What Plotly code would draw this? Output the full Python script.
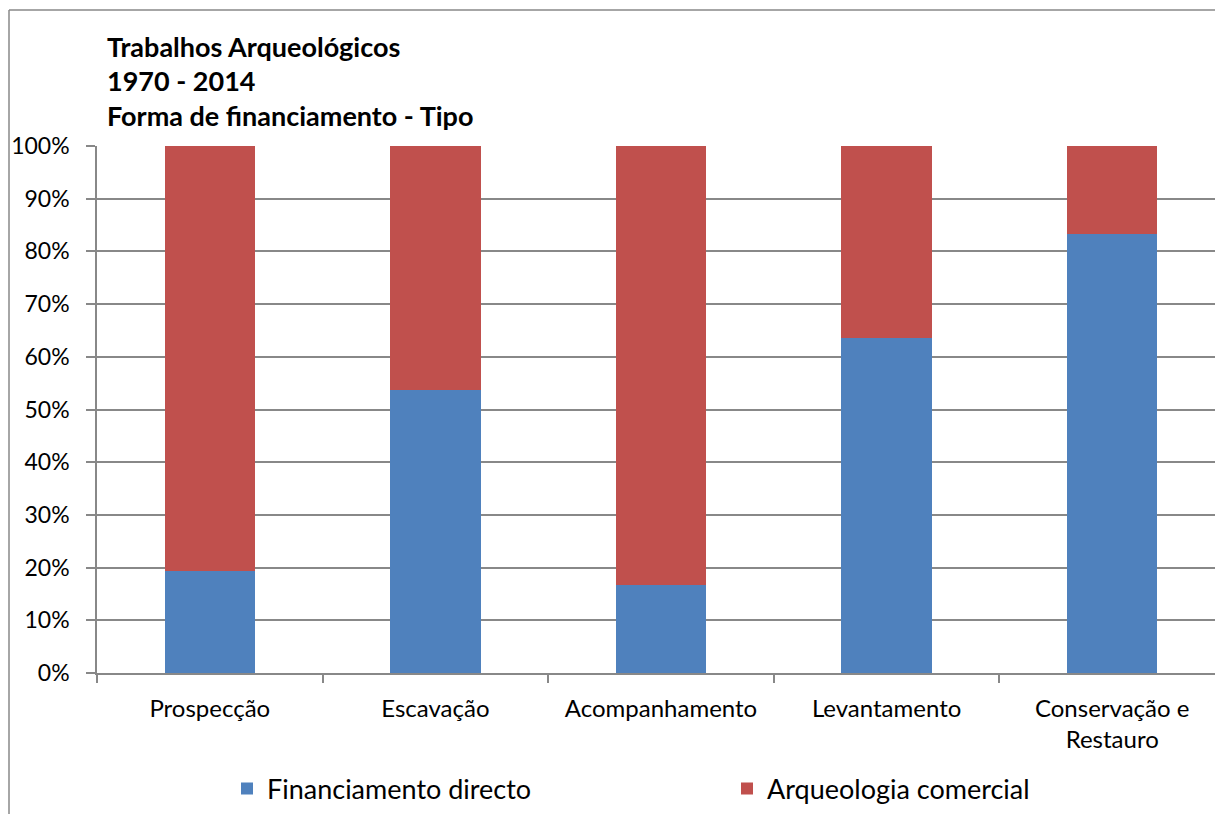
import plotly.graph_objects as go

categorias = ["Prospecção", "Escavação", "Acompanhamento", "Levantamento", "Conservação e<br>Restauro"]
financiamento_directo = [19.4, 53.7, 16.7, 63.6, 83.3]
arqueologia_comercial = [80.6, 46.3, 83.3, 36.4, 16.7]
titulo = ["Trabalhos Arqueológicos", "1970 - 2014", "Forma de financiamento - Tipo"]

FONT = "Lato"
GREY = "#888888"

fig = go.Figure()
fig.add_trace(go.Bar(x=categorias, y=financiamento_directo, name="Financiamento directo",
                     marker=dict(color="#4F81BD", line=dict(width=0)), width=0.4,
                     legend="legend"))
fig.add_trace(go.Bar(x=categorias, y=arqueologia_comercial, name="Arqueologia comercial",
                     marker=dict(color="#C0504D", line=dict(width=0)), width=0.4,
                     legend="legend2"))

W, H = 1215, 814
L, T = 97, 146
ph = 527
B = H - T - ph
cat_w = 225.6          # one category, in pixels
pw = 1118

# pixel -> paper helpers (plot area starts at 97, 146; 0% at 673)
def px(x):
    return (x - L) / pw

def py(y):
    return (T + ph - y) / ph

for txt, yc in zip(titulo, [46, 80, 115]):
    fig.add_annotation(text="<b>" + txt + "</b>", xref="paper", yref="paper",
                       x=px(105), y=py(yc), xanchor="left", yanchor="middle",
                       showarrow=False, font=dict(family=FONT, size=27, color="black"))

# chart frame (left + top)
fig.add_shape(type="line", xref="paper", yref="paper", x0=px(9), x1=px(1240),
              y0=py(10), y1=py(10), line=dict(color=GREY, width=1.5))
fig.add_shape(type="line", xref="paper", yref="paper", x0=px(9), x1=px(9),
              y0=py(10), y1=py(840), line=dict(color=GREY, width=1.5))

leg = dict(orientation="h", yanchor="middle", xanchor="left", itemwidth=30,
           font=dict(family=FONT, size=27, color="black"), bgcolor="rgba(0,0,0,0)")

fig.update_layout(
    width=W, height=H,
    margin=dict(l=L, r=W - L - pw, t=T, b=B),
    barmode="stack",
    plot_bgcolor="white", paper_bgcolor="white",
    font=dict(family=FONT, size=24, color="black"),
    showlegend=True,
    legend=dict(leg, x=px(227), y=py(789)),
    legend2=dict(leg, x=px(727), y=py(789)),
)
fig.update_xaxes(range=[-0.5, -0.5 + pw / cat_w], tickson="boundaries", ticks="outside",
                 ticklen=8, tickcolor=GREY, tickwidth=1.5, showline=True, linecolor=GREY,
                 linewidth=1.5, showgrid=False, ticklabelstandoff=13,
                 tickfont=dict(family=FONT, size=24))
fig.update_yaxes(range=[0, 100], dtick=10, ticksuffix="%", ticks="outside", ticklen=9,
                 tickcolor=GREY, tickwidth=1.5, showline=True, linecolor=GREY, linewidth=1.5,
                 showgrid=True, gridcolor=GREY, gridwidth=1.5, zeroline=False,
                 ticklabelstandoff=12, tickfont=dict(family=FONT, size=23))

# drop the default 8px body margin and scrollbars so the figure fills the window
fig.write_html("out.html", config={"displayModeBar": False},
               post_script="document.body.style.margin='0';"
                           "document.body.style.overflow='hidden';"
                           "document.documentElement.style.overflow='hidden';")
